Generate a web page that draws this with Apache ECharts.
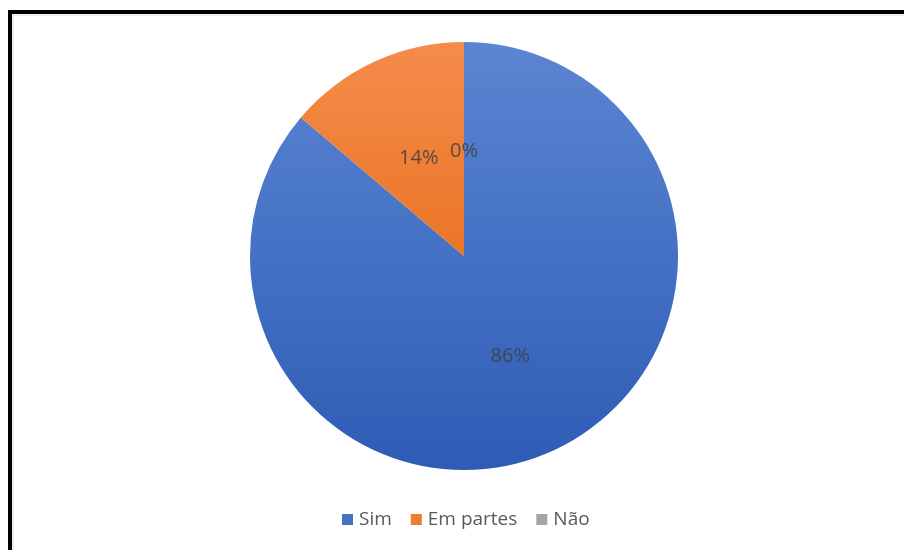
<!DOCTYPE html>
<html>
<head>
<meta charset="utf-8">
<script src="https://cdn.jsdelivr.net/npm/echarts@6/dist/echarts.min.js"></script>
<style>
html,body{margin:0;padding:0;background:#fff;}
#chart{width:904px;height:550px;}
</style>
</head>
<body>
<div id="chart"></div>
<script>
var categories = ['Sim', 'Em partes', 'Não'];
var values = [86.2, 13.8, 0];

var gradients = [
  {type:'linear', global:true, x:0, y:42, x2:0, y2:470,
   colorStops:[{offset:0,color:'#5c85d2'},{offset:0.5,color:'#4471c4'},{offset:1,color:'#2e5cb5'}]},
  {type:'linear', global:true, x:0, y:42, x2:0, y2:470,
   colorStops:[{offset:0,color:'#f58c4c'},{offset:0.5,color:'#eb7526'},{offset:1,color:'#dc6a1a'}]},
  {type:'linear', global:true, x:0, y:42, x2:0, y2:470,
   colorStops:[{offset:0,color:'#b0b0b0'},{offset:1,color:'#8f8f8f'}]}
];
var legendColors = ['#4472c4', '#ed7d31', '#a5a5a5'];
var labelOffsets = [[0,0],[1,2],[0,5]];

var chart = echarts.init(document.getElementById('chart'), null, {renderer:'canvas'});
var data = categories.map(function(c, i){
  return {
    name: c,
    value: values[i],
    itemStyle: {color: gradients[i]},
    label: {offset: labelOffsets[i]}
  };
});

chart.setOption({
  animation: false,
  backgroundColor: '#ffffff',
  graphic: [
    {type:'rect', shape:{x:8, y:10, width:896, height:4}, style:{fill:'#000'}, silent:true},
    {type:'rect', shape:{x:8, y:10, width:4, height:540}, style:{fill:'#000'}, silent:true},
    {type:'rect', shape:{x:12, y:14, width:892, height:2}, style:{fill:'#e9eff6'}, silent:true},
    {type:'rect', shape:{x:12, y:14, width:2, height:536}, style:{fill:'#e9eff6'}, silent:true}
  ],
  legend: {
    data: categories.map(function(c, i){ return {name:c, itemStyle:{color:legendColors[i]}}; }),
    left: 342,
    top: 510,
    padding: 0,
    icon: 'rect',
    itemWidth: 11,
    itemHeight: 11,
    itemGap: 19,
    selectedMode: false,
    textStyle: {color:'#595959', fontSize:19, fontFamily:'Open Sans', padding:[0,0,0,1]}
  },
  series: [{
    type: 'pie',
    center: [464, 256],
    radius: [0, 214],
    startAngle: 90,
    clockwise: true,
    avoidLabelOverlap: false,
    stillShowZeroSum: true,
    minShowLabelAngle: 0,
    label: {
      show: true,
      position: 'inside',
      formatter: function(p){ return Math.round(p.percent) + '%'; },
      color: 'rgba(64,64,64,0.85)',
      fontSize: 20,
      fontFamily: 'Open Sans'
    },
    labelLine: {show:false},
    emphasis: {disabled:true},
    itemStyle: {borderWidth:0},
    data: data
  }]
});
</script>
</body>
</html>
